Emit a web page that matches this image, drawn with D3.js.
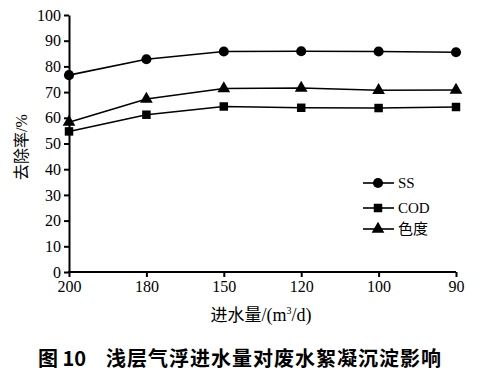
<!DOCTYPE html>
<html><head><meta charset="utf-8">
<script src="https://cdn.jsdelivr.net/npm/d3@7/dist/d3.min.js"></script>
<style>
body{margin:0;background:#fff}svg{display:block}
svg text{font-family:"Liberation Serif",serif;fill:#000}
svg text.cjk, svg tspan.cjk{font-family:"Noto Sans CJK SC",sans-serif}
</style>
</head><body>
<svg id="c" width="502" height="372"></svg>
<script>
const categories = ["200","180","150","120","100","90"];
const ss = [76.6, 82.8, 85.8, 85.9, 85.8, 85.5];
const cod = [54.7, 61.2, 64.4, 63.9, 63.8, 64.2];
const color = [58.3, 67.3, 71.4, 71.6, 70.7, 70.8];
const yTicks = [0,10,20,30,40,50,60,70,80,90,100];
const seriesNames = ["SS","COD","色度"];

const svg = d3.select("#c");
const x = d3.scalePoint().domain(categories).range([69, 456]).padding(0);
const y = d3.scaleLinear().domain([0,100]).range([272, 15]);

const xa = svg.append("g").attr("transform","translate(0,272)")
  .call(d3.axisBottom(x).tickSize(5).tickSizeOuter(0).tickPadding(4));
const ya = svg.append("g").attr("transform","translate(69,0)")
  .call(d3.axisLeft(y).tickValues(yTicks).tickSize(5).tickSizeOuter(0).tickPadding(3));
[xa,ya].forEach(a=>{
  a.attr("font-family",null).attr("font-size",null);
  a.selectAll("path,line").attr("stroke","#000").attr("stroke-width",2);
  a.selectAll("text").attr("font-size",16);
});
xa.select(".domain").attr("d","M68,0H456");

const data = [ss, cod, color];
const shapes = [d3.symbolCircle, d3.symbolSquare, d3.symbolTriangle];
const sizes = [80, 72, 70];
const line = d3.line().x((d,i)=>x(categories[i])).y(d=>y(d));
data.forEach((s,k)=>{
  svg.append("path").attr("d",line(s)).attr("fill","none").attr("stroke","#000").attr("stroke-width",1.6);
  svg.selectAll(null).data(s).enter().append("path")
    .attr("d", d3.symbol().type(shapes[k]).size(sizes[k]))
    .attr("transform",(d,i)=>`translate(${x(categories[i])},${y(d)})`)
    .attr("fill","#000");
});

// legend
const ly = [183, 208, 229];
seriesNames.forEach((n,k)=>{
  const g = svg.append("g").attr("transform",`translate(0,${ly[k]})`);
  g.append("line").attr("x1",363).attr("x2",394).attr("stroke","#000").attr("stroke-width",1.6);
  g.append("path").attr("d", d3.symbol().type(shapes[k]).size(sizes[k])).attr("transform","translate(378,0)").attr("fill","#000");
  g.append("text").attr("x",398).attr("y",5).attr("class", k==2?"cjk":null)
    .attr("font-size",15).text(n);
});

const yl = svg.append("text").attr("transform","translate(27,147) rotate(-90)").attr("text-anchor","middle")
  .attr("font-size",16);
yl.append("tspan").attr("class","cjk").text("去除率");
yl.append("tspan").text("/%");

const xl = svg.append("text").attr("x",261).attr("y",321).attr("text-anchor","middle")
  .attr("font-size",18);
xl.append("tspan").attr("class","cjk").attr("font-size",17).text("进水量");
xl.append("tspan").text("/(m");
xl.append("tspan").attr("font-size",10).attr("dy",-7).text("3");
xl.append("tspan").attr("dy",7).text("/d)");

const t = svg.append("text").attr("class","cjk").attr("x",38).attr("y",366)
  .attr("font-weight","bold").attr("font-size",20);
t.append("tspan").text("图 10");
t.append("tspan").attr("x",106).attr("letter-spacing",1).text("浅层气浮进水量对废水絮凝沉淀影响");
</script>
</body></html>
